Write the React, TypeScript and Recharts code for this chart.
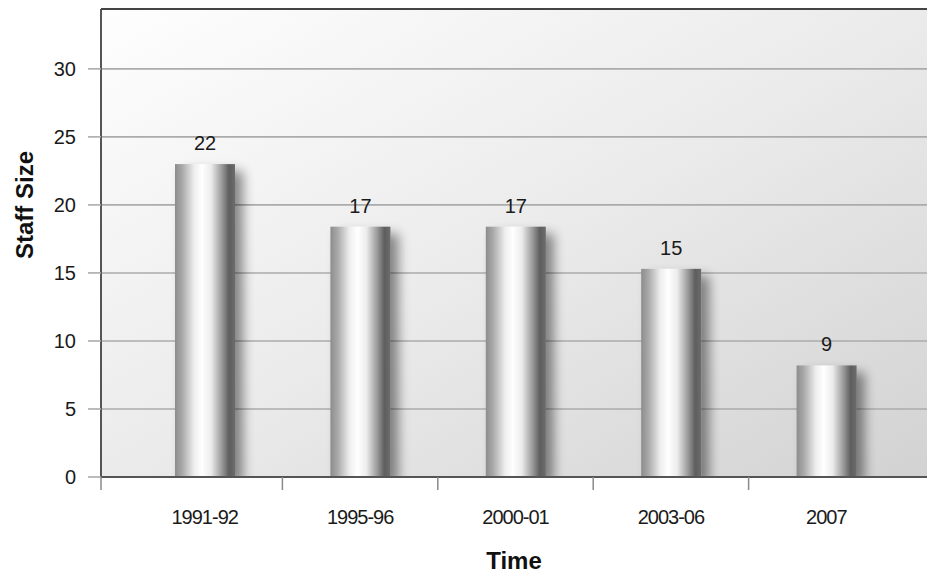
import React from 'react';
import { BarChart, Bar, XAxis, YAxis, CartesianGrid, LabelList, ReferenceLine } from 'recharts';

const categories = ['1991-92', '1995-96', '2000-01', '2003-06', '2007'];
const barHeights = [23.0, 18.4, 18.4, 15.3, 8.2];
const barLabels = ['22', '17', '17', '15', '9'];
const yTicks = [0, 5, 10, 15, 20, 25, 30];
const yMax = 34.4;

const data = categories.map((c, i) => ({ period: c, staff: barHeights[i], label: barLabels[i] }));

const FONT = '"Liberation Sans", Arial, Helvetica, sans-serif';
const PAD_L = 26;
const PAD_R = 23;

const XTick = (props: any) => {
  const { x, y, payload, index } = props;
  const half = payload && typeof payload.offset === 'number' && payload.offset > 0 ? payload.offset : 77.6;
  const tx = index === 0 ? x - half - PAD_L : x - half;
  return (
    <g>
      <line x1={tx} x2={tx} y1={y} y2={y + 13} stroke="#8a8a8a" strokeWidth={1.5} />
      <text x={x} y={y + 47} textAnchor="middle" fill="#1a1a1a" fontSize={20} letterSpacing={-1} fontFamily={FONT}>
        {payload.value}
      </text>
    </g>
  );
};

const CylBar = (props: any) => {
  const { x, y, width, height } = props;
  if (!height || height <= 0) return null;
  return <rect x={x} y={y} width={width} height={height} fill="url(#cyl)" filter="url(#shadow)" />;
};

const YLabel = (props: any) => {
  const vb = props.viewBox || { x: 0, y: 9, width: 101, height: 468 };
  const cx = vb.x + 33;
  const cy = vb.y + vb.height / 2 - 38;
  return (
    <text x={cx} y={cy} transform={`rotate(-90 ${cx} ${cy})`} textAnchor="middle" fontSize={24} fontWeight="bold" fill="#111" fontFamily={FONT}>
      Staff Size
    </text>
  );
};

const XLabel = (props: any) => {
  const vb = props.viewBox || { x: 101, y: 477, width: 826, height: 100 };
  return (
    <text x={vb.x + vb.width / 2} y={vb.y + 92} textAnchor="middle" fontSize={24} fontWeight="bold" fill="#111" fontFamily={FONT}>
      Time
    </text>
  );
};

export default function App() {
  return (
    <div style={{ position: 'absolute', left: 0, top: 0, width: 927, height: 577, background: '#fff' }}>
      <BarChart width={927} height={577} data={data} margin={{ top: 9, right: 0, bottom: 0, left: 0 }}>
        <defs>
          <linearGradient id="bg" x1="0" y1="0" x2="1" y2="1">
            <stop offset="0%" stopColor="#fefefe" />
            <stop offset="50%" stopColor="#ebebeb" />
            <stop offset="100%" stopColor="#d2d2d2" />
          </linearGradient>
          <linearGradient id="cyl" x1="0" y1="0" x2="1" y2="0">
            <stop offset="0%" stopColor="#8c8c8c" />
            <stop offset="12%" stopColor="#a9a9a9" />
            <stop offset="32%" stopColor="#eeeeee" />
            <stop offset="45%" stopColor="#ffffff" />
            <stop offset="60%" stopColor="#ececec" />
            <stop offset="78%" stopColor="#9a9a9a" />
            <stop offset="90%" stopColor="#5e5e5e" />
            <stop offset="100%" stopColor="#6c6c6c" />
          </linearGradient>
          <filter id="shadow" x="-40%" y="-10%" width="200%" height="140%" filterUnits="objectBoundingBox">
            <feGaussianBlur in="SourceAlpha" stdDeviation="6" />
            <feOffset dx="8" dy="7" result="blur" />
            <feComponentTransfer>
              <feFuncA type="linear" slope="0.45" />
            </feComponentTransfer>
            <feMerge>
              <feMergeNode />
              <feMergeNode in="SourceGraphic" />
            </feMerge>
          </filter>
        </defs>
        <CartesianGrid vertical={false} horizontal={true} fill="url(#bg)" stroke="#ababab" strokeWidth={1.6} />
        <XAxis
          dataKey="period"
          type="category"
          height={100}
          padding={{ left: PAD_L, right: PAD_R }}
          axisLine={{ stroke: '#555', strokeWidth: 2 }}
          tickLine={false}
          tickSize={0}
          tickMargin={0}
          tick={<XTick />}
          interval={0}
          label={<XLabel />}
        />
        <YAxis
          type="number"
          domain={[0, yMax]}
          ticks={yTicks}
          width={101}
          axisLine={{ stroke: '#555', strokeWidth: 2 }}
          tickLine={{ stroke: '#ababab', strokeWidth: 1.6 }}
          tickSize={13}
          tickMargin={12}
          tick={{ fill: '#1a1a1a', fontSize: 20, fontFamily: FONT }}
          label={<YLabel />}
          allowDataOverflow
        />
        <ReferenceLine y={yMax} stroke="#444" strokeWidth={2} />
        <Bar dataKey="staff" barSize={60} shape={<CylBar />} isAnimationActive={false}>
          <LabelList dataKey="label" position="top" offset={14} fill="#1a1a1a" fontSize={20} fontFamily={FONT} />
        </Bar>
      </BarChart>
    </div>
  );
}
